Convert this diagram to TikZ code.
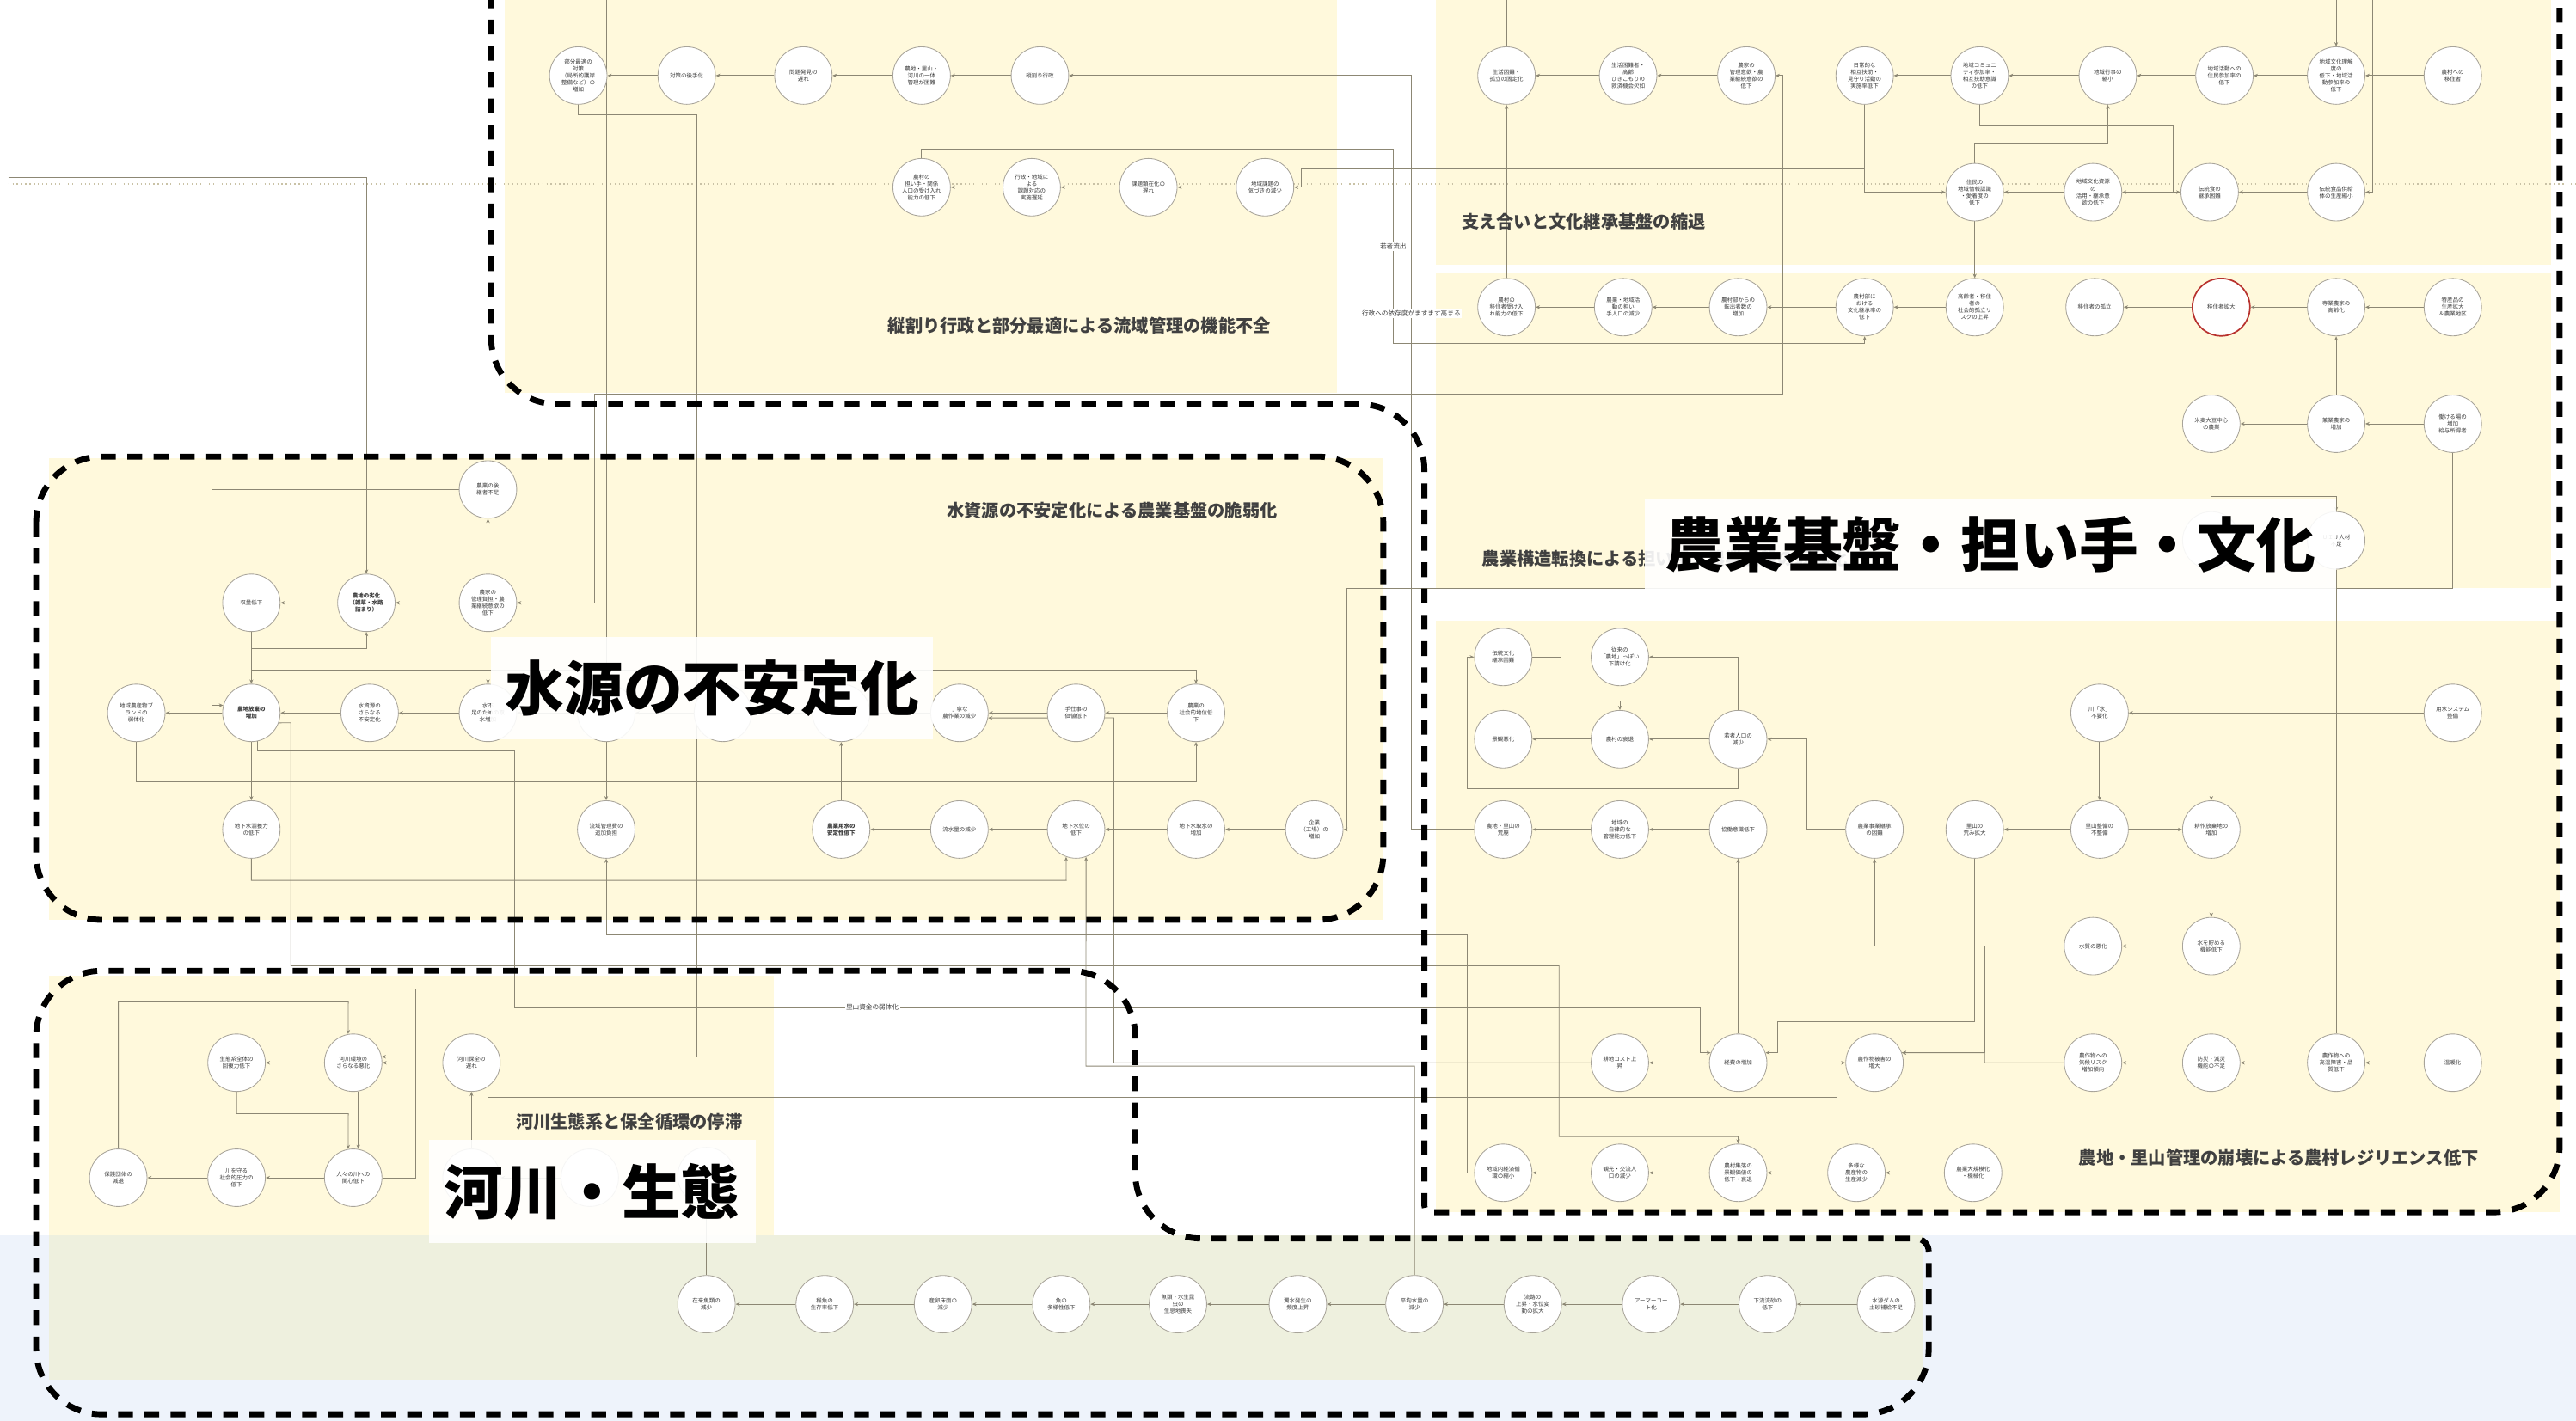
\documentclass[tikz,border=0pt]{standalone}
\usepackage{fontspec}
\setmainfont{Noto Sans CJK JP}
\usetikzlibrary{arrows.meta}
\definecolor{yel}{HTML}{FFF9DC}
\definecolor{blu}{HTML}{EEF3FB}
\definecolor{grn}{HTML}{EEF0DE}
\definecolor{lnc}{HTML}{8C8774}
\definecolor{ndc}{HTML}{A8A49A}
\definecolor{txtc}{HTML}{3A3A3A}
\definecolor{ttlc}{HTML}{404040}
\definecolor{redc}{HTML}{B8322E}
\definecolor{dotc}{HTML}{C9C2A6}
\pgfdeclarelayer{bg}
\pgfdeclarelayer{edges}
\pgfdeclarelayer{fg}
\pgfsetlayers{bg,edges,main,fg}
\tikzset{
  nd/.style={circle, draw=ndc, fill=white, line width=0.45pt, minimum size=35pt, inner sep=0pt, align=center, font=\fontsize{3.4}{4.2}\selectfont, text=txtc},
  ndb/.style={nd, font=\fontsize{3.4}{4.2}\selectfont\bfseries},
  ln/.style={draw=lnc, line width=0.45pt},
  arr/.style={ln, -{Stealth[length=2.6pt,width=2.2pt]}},
  barr/.style={ln, {Stealth[length=2.6pt,width=2.2pt]}-{Stealth[length=2.6pt,width=2.2pt]}},
  ttl/.style={font=\fontsize{10.6}{12}\selectfont\bfseries, text=ttlc, inner sep=0pt},
  big/.style={fill=white, fill opacity=0.9, text opacity=1, inner sep=0pt, font=\fontsize{36}{40}\selectfont\bfseries, text=black},
  elab/.style={font=\fontsize{4}{5}\selectfont, text=txtc, fill=white, inner sep=0.8pt},
  dsh/.style={line width=3.6pt, dash pattern=on 9pt off 7pt, black},
}
\begin{document}
\begin{tikzpicture}[x=1pt,y=-1pt]
\useasboundingbox (0,0) rectangle (1568,865);

% ---------- backgrounds ----------
\begin{pgfonlayer}{bg}
\fill[white] (0,0) rectangle (1568,865);
\fill[yel] (307,0) rectangle (814,239);
\fill[yel] (874,0) rectangle (1553,161);
\fill[yel] (874,166) rectangle (1553,358);
\fill[yel] (874,378) rectangle (1558,738);
\fill[yel] (30,279) rectangle (842,560);
\fill[yel] (30,594) rectangle (471,752);
\fill[blu] (0,752) rectangle (1568,865);
\fill[grn] (30,752) rectangle (1170,840);
\end{pgfonlayer}

% ---------- nodes: top-middle ----------
\node[nd] (v1) at (352,46) {部分最適の\\対策\\（局所的護岸\\整備など）の\\増加};
\node[nd] (v2) at (418,46) {対策の後手化};
\node[nd] (v3) at (489,46) {問題発見の\\遅れ};
\node[nd] (v4) at (561,46) {農地・里山・\\河川の一体\\管理が困難};
\node[nd] (v5) at (633,46) {縦割り行政};
\node[nd] (v6) at (561,114) {農村の\\担い手・関係\\人口の受け入れ\\能力の低下};
\node[nd] (v7) at (628,114) {行政・地域に\\よる\\課題対応の\\実施遅延};
\node[nd] (v8) at (699,114) {課題顕在化の\\遅れ};
\node[nd] (v9) at (770,114) {地域課題の\\気づきの減少};

% ---------- nodes: support / culture ----------
\node[nd] (a1) at (917,46) {生活困難・\\孤立の固定化};
\node[nd] (a2) at (991,46) {生活困難者・\\高齢\\ひきこもりの\\救済機会欠如};
\node[nd] (a3) at (1063,46) {農家の\\管理意欲・農\\業継続意欲の\\低下};
\node[nd] (a4) at (1135,46) {日常的な\\相互扶助・\\見守り活動の\\実施率低下};
\node[nd] (a5) at (1205,46) {地域コミュニ\\ティ参加率・\\相互扶助意識\\の低下};
\node[nd] (a6) at (1283,46) {地域行事の\\縮小};
\node[nd] (a7) at (1354,46) {地域活動への\\住民参加率の\\低下};
\node[nd] (a8) at (1422,46) {地域文化理解\\度の\\低下・地域活\\動参加率の\\低下};
\node[nd] (a9) at (1493,46) {農村への\\移住者};
\node[nd] (c1) at (1202,117) {住民の\\地域情報認識\\・愛着度の\\低下};
\node[nd] (c2) at (1274,117) {地域文化資源\\の\\活用・継承意\\欲の低下};
\node[nd] (c3) at (1345,117) {伝統食の\\継承困難};
\node[nd] (c4) at (1422,117) {伝統食品供給\\体の生産縮小};
\node[nd] (b1) at (917,187) {農村の\\移住者受け入\\れ能力の低下};
\node[nd] (b2) at (988,187) {農業・地域活\\動の担い\\手人口の減少};
\node[nd] (b3) at (1058,187) {農村部からの\\転出者数の\\増加};
\node[nd] (b4) at (1135,187) {農村部に\\おける\\文化継承率の\\低下};
\node[nd] (b5) at (1202,187) {高齢者・移住\\者の\\社会的孤立リ\\スクの上昇};
\node[nd] (b6) at (1275,187) {移住者の孤立};
\node[nd, draw=redc, line width=0.9pt] (b7) at (1352,187) {移住者拡大};
\node[nd] (b8) at (1422,187) {専業農家の\\高齢化};
\node[nd] (b9) at (1493,187) {特産品の\\生産拡大\\＆農業地区};
\node[nd] (d1) at (1346,258) {米麦大豆中心\\の農業};
\node[nd] (d2) at (1422,258) {兼業農家の\\増加};
\node[nd] (d3) at (1493,258) {働ける場の\\増加\\給与所得者};
\node[nd] (e1) at (1346,329) {};
\node[nd] (e2) at (1422,329) {ＵＩＪ人材\\不足};

% ---------- nodes: farmland / satoyama ----------
\node[nd] (g1) at (915,400) {伝統文化\\継承困難};
\node[nd] (g2) at (986,400) {従来の\\「農地」っぽい\\下請け化};
\node[nd] (g3) at (915,450) {景観悪化};
\node[nd] (g4) at (986,450) {農村の衰退};
\node[nd] (g5) at (1058,450) {若者人口の\\減少};
\node[nd] (g6) at (800,505) {企業\\（工場）の\\増加};
\node[nd] (g7) at (915,505) {農地・里山の\\荒廃};
\node[nd] (g8) at (986,505) {地域の\\自律的な\\管理能力低下};
\node[nd] (g9) at (1058,505) {協働意識低下};
\node[nd] (g10) at (1141,505) {農業事業継承\\の困難};
\node[nd] (h1) at (1278,434) {川「水」\\不要化};
\node[nd] (h2) at (1493,434) {用水システム\\整備};
\node[nd] (f1) at (1202,505) {里山の\\荒み拡大};
\node[nd] (f2) at (1278,505) {里山整備の\\不整備};
\node[nd] (f3) at (1346,505) {耕作放棄地の\\増加};
\node[nd] (i1) at (1274,576) {水質の悪化};
\node[nd] (i2) at (1346,576) {水を貯める\\機能低下};
\node[nd] (j1) at (986,647) {耕地コスト上\\昇};
\node[nd] (j2) at (1058,647) {経費の増加};
\node[nd] (j3) at (1141,647) {農作物被害の\\増大};
\node[nd] (j4) at (1274,647) {農作物への\\気候リスク\\増加傾向};
\node[nd] (j5) at (1346,647) {防災・減災\\機能の不足};
\node[nd] (j6) at (1422,647) {農作物への\\高温障害・品\\質低下};
\node[nd] (j7) at (1493,647) {温暖化};
\node[nd] (k1) at (915,714) {地域内経済循\\環の縮小};
\node[nd] (k2) at (986,714) {観光・交流人\\口の減少};
\node[nd] (k3) at (1058,714) {農村集落の\\景観価値の\\低下・衰退};
\node[nd] (k4) at (1130,714) {多様な\\農産物の\\生産減少};
\node[nd] (k5) at (1201,714) {農業大規模化\\・機械化};

% ---------- nodes: water ----------
\node[nd] (w1) at (297,298) {農業の後\\継者不足};
\node[nd] (w2) at (153,367) {収量低下};
\node[ndb] (w3) at (223,367) {農地の劣化\\（雑草・水路\\詰まり）};
\node[nd] (w4) at (297,367) {農家の\\管理負担・農\\業継続意欲の\\低下};
\node[nd] (w5) at (83,434) {地域農産物ブ\\ランドの\\弱体化};
\node[ndb] (w6) at (153,434) {農地放棄の\\増加};
\node[nd] (w7) at (225,434) {水資源の\\さらなる\\不安定化};
\node[nd] (w8) at (297,434) {水不\\足のための取\\水増加};
\node[nd] (w9) at (369,434) {};
\node[nd] (w10) at (440,434) {};
\node[nd] (w11) at (512,434) {};
\node[nd] (w12) at (584,434) {丁寧な\\農作業の減少};
\node[nd] (w13) at (655,434) {手仕事の\\価値低下};
\node[nd] (w14) at (728,434) {農業の\\社会的地位低\\下};
\node[nd] (w15) at (153,505) {地下水涵養力\\の低下};
\node[nd] (w16) at (369,505) {流域管理費の\\追加負担};
\node[ndb] (w17) at (512,505) {農業用水の\\安定性低下};
\node[nd] (w18) at (584,505) {流水量の減少};
\node[nd] (w19) at (655,505) {地下水位の\\低下};
\node[nd] (w20) at (728,505) {地下水取水の\\増加};

% ---------- nodes: river ----------
\node[nd] (r1) at (144,647) {生態系全体の\\回復力低下};
\node[nd] (r2) at (215,647) {河川環境の\\さらなる悪化};
\node[nd] (r3) at (287,647) {河川保全の\\遅れ};
\node[nd] (r4) at (72,717) {保護団体の\\減退};
\node[nd] (r5) at (144,717) {川を守る\\社会的圧力の\\低下};
\node[nd] (r6) at (215,717) {人々の川への\\関心低下};
\node[nd] (r7) at (287,717) {};
\node[nd] (r8) at (359,717) {};
\node[nd] (r9) at (430,716) {};
\node[nd] (m1) at (430,794) {在来魚類の\\減少};
\node[nd] (m2) at (502,794) {稚魚の\\生存率低下};
\node[nd] (m3) at (574,794) {産卵床面の\\減少};
\node[nd] (m4) at (646,794) {魚の\\多様性低下};
\node[nd] (m5) at (717,794) {魚類・水生昆\\虫の\\生息地喪失};
\node[nd] (m6) at (790,794) {濁水発生の\\頻度上昇};
\node[nd] (m7) at (861,794) {平均水量の\\減少};
\node[nd] (m8) at (933,794) {流路の\\上昇・水位変\\動の拡大};
\node[nd] (m9) at (1005,794) {アーマーコー\\ト化};
\node[nd] (m10) at (1076,794) {下流流砂の\\低下};
\node[nd] (m11) at (1148,794) {水源ダムの\\土砂補給不足};

\coordinate (tin1) at (369,0);
\coordinate (tin2) at (5,108);
\coordinate (tin3) at (917,0);
\coordinate (tin4) at (1422,0);
\coordinate (tin5) at (1444,0);

% ---------- edges ----------
\begin{pgfonlayer}{edges}
\draw[dotc, line width=0.6pt, dotted] (5,112) -- (1568,112);
% top-middle
\draw[arr] (v5) -- (v4);
\draw[arr] (v4) -- (v3);
\draw[arr] (v3) -- (v2);
\draw[arr] (v2) -- (v1);
\draw[arr] (v9) -- (v8);
\draw[arr] (v8) -- (v7);
\draw[arr] (v7) -- (v6);
\draw[arr] (g7.west) -- (859,505) |- (v5.east);
\draw[arr] (v6.north) -- (561,91) -- (848,91) -- (848,209) -| (b4.south);
\draw[arr] (a4.south) -- (1135,103) -- (792,103) -- (792,114) -- (v9.east);
\draw[arr] (a4.south) |- (c1.west);
\draw[arr] (v1.south) -- (352,70) -- (424,70) |- (r2.12);
\draw[arr] (tin1) -- (w9.north);
\draw[barr] (w4.east) -- (362,367) -- (362,240) -- (1085,240) |- (a3.east);
\draw[arr] (tin2) -- (223,108) -- (w3.north);
% support
\draw[arr] (a3) -- (a2);
\draw[arr] (a2) -- (a1);
\draw[arr] (a5) -- (a4);
\draw[arr] (a6) -- (a5);
\draw[arr] (a7) -- (a6);
\draw[arr] (a8) -- (a7);
\draw[arr] (a9) -- (a8);
\draw[arr] (b1) -- (a1);
\draw[ln] (a1.north) -- (tin3);
\draw[arr] (tin4) -- (a8.north);
\draw[arr] (tin5) |- (c4.east);
\draw[arr] (a5.south) |- (1323,76) -- (1323,117) -- (c3.west);
\draw[arr] (c1.north) |- (1283,87) -- (a6.south);
\draw[arr] (c2) -- (c1);
\draw[arr] (c3) -- (c2);
\draw[arr] (c4) -- (c3);
\draw[arr] (c1) -- (b5);
\draw[arr] (b9) -- (b8);
\draw[arr] (b8) -- (b7);
\draw[arr] (b7) -- (b6);
\draw[arr] (b5) -- (b4);
\draw[arr] (b4) -- (b3);
\draw[arr] (b3) -- (b2);
\draw[arr] (b2) -- (b1);
\draw[arr] (d3) -- (d2);
\draw[arr] (d2) -- (d1);
\draw[arr] (d2) -- (b8);
\draw[arr] (d1.south) -- (1346,302) -- (1422,302) -- (e2.north);
\draw[arr] (e1) -- (f3);
\draw[arr] (d3.south) -- (1493,358) -- (820,358) -- (820,505) -- (g6.east);
\draw[ln] (e2) -- (j6);
% farmland
\draw[arr] (g6) -- (w20);
\draw[arr] (g5) -- (g4);
\draw[arr] (g4) -- (g3);
\draw[arr] (g5.north) |- (g2.east);
\draw[arr] (g1.east) -- (950,400) -- (950,427) -- (986,427) -- (g4.north);
\draw[arr] (g5.south) -- (1058,480) -- (893,480) |- (g1.west);
\draw[arr] (g10.west) -- (1100,505) |- (g5.east);
\draw[arr] (g9) -- (g8);
\draw[arr] (g8) -- (g7);
\draw[arr] (j2) -- (g9);
\draw[arr] (1058,576) -| (g10.south);
\draw[arr] (h2) -- (h1);
\draw[arr] (h1) -- (f2);
\draw[arr] (f2) -- (f1);
\draw[arr] (f2) -- (f3);
\draw[arr] (f3) -- (i2);
\draw[arr] (i2) -- (i1);
\draw[arr] (f1.south) -- (1202,622) -- (1082,622) |- (j2.20);
\draw[arr] (i1.west) -- (1208,576) |- (j3.20);
\draw[arr] (j4.west) -- (1208,647) -- (1208,641) -- (j3.20);
\draw[arr] (j7) -- (j6);
\draw[arr] (j6) -- (j5);
\draw[arr] (j5) -- (j4);
\draw[arr] (j2) -- (j1);
\draw[arr] (k5) -- (k4);
\draw[arr] (k4) -- (k3);
\draw[arr] (k3) -- (k2);
\draw[arr] (k2) -- (k1);
\draw[arr] (k1.west) -- (893,714) -- (893,569) -- (369,569) -- (w16.south);
% water
\draw[arr] (w8.south) |- (1118,668) |- (j3.west);
\draw[arr] (w6.-20) -- (177,440) -- (177,588) -- (949,588) -- (949,692) -- (1058,692) -- (k3.north);
\draw[arr] (w6.-78) |- (313,457) -- (313,613) -- (1035,613) |- (j2.160);
\draw[arr] (w6) -- (w15);
\draw[arr] (w2) -- (w6);
\draw[arr] (153,395) -- (223,395) -- (w3.south);
\draw[arr] (153,408) -- (728,408) -- (w14.north);
\draw[arr] (w1.west) -- (129,298) |- (w6.165);
\draw[arr] (w4) -- (w3);
\draw[arr] (w3) -- (w2);
\draw[arr] (w4) -- (w1);
\draw[arr] (w4) -- (w8);
\draw[arr] (w14) -- (w13);
\draw[arr] (w13) -- (w12);
\draw[arr] (w12) -- (w11);
\draw[arr] (w11) -- (w10);
\draw[arr] (w10) -- (w9);
\draw[arr] (w9) -- (w8);
\draw[arr] (w8) -- (w7);
\draw[arr] (w7) -- (w6);
\draw[arr] (w6) -- (w5);
\draw[arr] (w17) -- (w11);
\draw[arr] (w9) -- (w16);
\draw[arr] (w20) -- (w19);
\draw[arr] (w19) -- (w18);
\draw[arr] (w18) -- (w17);
\draw[arr] (w5.south) |- (728,476) -- (w14.south);
\draw[arr] (w15.south) |- (649,536) -- (w19.-110);
\draw[arr] (m7.north) -- (861,649) -- (661,649) -- (w19.-70);
\draw[arr] (j1.west) -- (678,647) -- (678,437) -- (w12.-10);
% river
\draw[arr] (r2) -- (r1);
\draw[arr] (r3) -- (r2);
\draw[arr] (r6) -- (r5);
\draw[arr] (r5) -- (r4);
\draw[arr] (r7) -- (r3);
\draw[arr] (r8) -- (r7);
\draw[arr] (m1) -- (r9);
\draw[arr] (r4.north) |- (212,610) -- (r2.100);
\draw[arr] (r1.south) |- (212,678) -- (r6.100);
\draw[arr] (r2.-80) -- (r6.80);
\draw[ln] (r6.east) -- (253,717) -- (253,602) -- (1058,602);
% bottom chain
\draw[arr] (m11) -- (m10);
\draw[arr] (m10) -- (m9);
\draw[arr] (m9) -- (m8);
\draw[arr] (m8) -- (m7);
\draw[arr] (m7) -- (m6);
\draw[arr] (m6) -- (m5);
\draw[arr] (m5) -- (m4);
\draw[arr] (m4) -- (m3);
\draw[arr] (m3) -- (m2);
\draw[arr] (m2) -- (m1);
\end{pgfonlayer}

% edge labels
\node[elab] (el1) at (848,150) {若者流出};
\node[elab] (el2) at (859,191) {行政への依存度がますます高まる};
\node[elab] (el3) at (531,613) {里山資金の弱体化};

% region titles
\node[ttl] (t1) at (657,198) {縦割り行政と部分最適による流域管理の機能不全};
\node[ttl] (t2) at (964,135) {支え合いと文化継承基盤の縮退};
\node[ttl] (t3) at (677,311) {水資源の不安定化による農業基盤の脆弱化};
\node[ttl, anchor=west] (t4) at (902,340) {農業構造転換による担い手・農業基盤の弱体化};
\node[ttl] (t5) at (1387,705) {農地・里山管理の崩壊による農村レジリエンス低下};
\node[ttl] (t6) at (383,683) {河川生態系と保全循環の停滞};

% ---------- foreground: dashed outlines and big labels ----------
\begin{pgfonlayer}{fg}
\draw[dsh] (299,-20) [rounded corners=40pt] -- (299,246) -- (867,246) [rounded corners=4pt] -- (867,738) [rounded corners=40pt] -- (1558,738) -- (1558,-20);
\draw[dsh, rounded corners=40pt] (22,278) rectangle (842,560);
\draw[dsh, rounded corners=40pt] (22,700) -- (22,591) -- (691,591) -- (691,754) [rounded corners=8pt] -- (1174,754) [rounded corners=40pt] -- (1174,861) -- (22,861) -- cycle;
\node[big, minimum width=269pt, minimum height=62pt] (L1) at (433.5,419) {水源の不安定化};
\node[big, minimum width=421pt, minimum height=55pt] (L2) at (1211.5,331.5) {農業基盤・担い手・文化};
\node[big, minimum width=199pt, minimum height=63pt] (L3) at (360.5,725.5) {河川・生態};
\end{pgfonlayer}
\end{tikzpicture}
\end{document}
